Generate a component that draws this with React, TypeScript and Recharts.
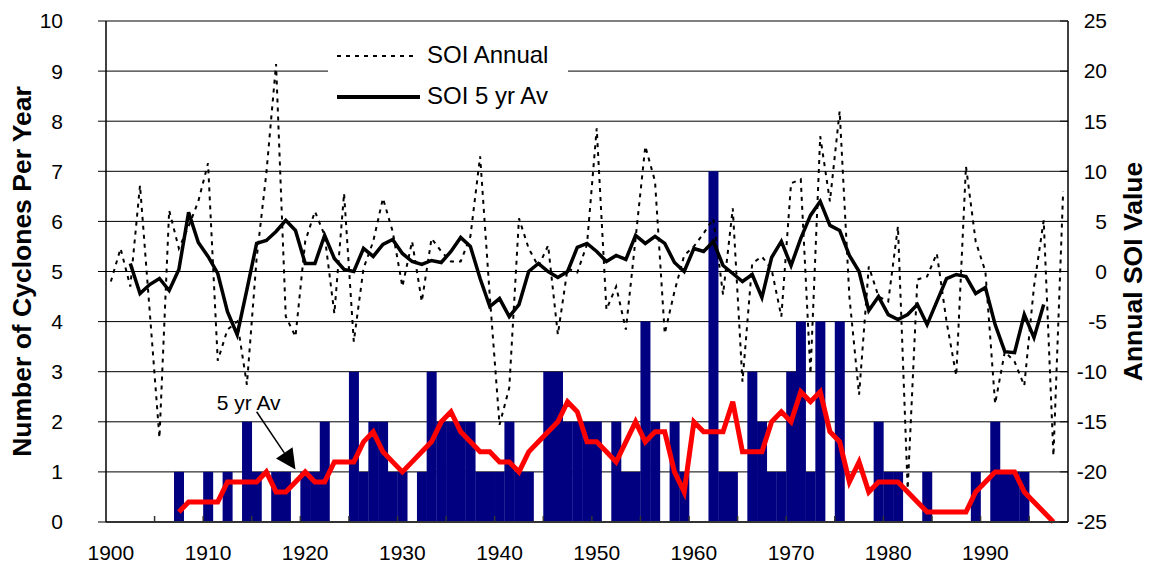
import React from 'react';
import { ComposedChart, Bar, Line, XAxis, YAxis, CartesianGrid, Legend, ReferenceLine } from 'recharts';

const years = [
  1900, 1901, 1902, 1903, 1904, 1905, 1906, 1907, 1908, 1909,
  1910, 1911, 1912, 1913, 1914, 1915, 1916, 1917, 1918, 1919,
  1920, 1921, 1922, 1923, 1924, 1925, 1926, 1927, 1928, 1929,
  1930, 1931, 1932, 1933, 1934, 1935, 1936, 1937, 1938, 1939,
  1940, 1941, 1942, 1943, 1944, 1945, 1946, 1947, 1948, 1949,
  1950, 1951, 1952, 1953, 1954, 1955, 1956, 1957, 1958, 1959,
  1960, 1961, 1962, 1963, 1964, 1965, 1966, 1967, 1968, 1969,
  1970, 1971, 1972, 1973, 1974, 1975, 1976, 1977, 1978, 1979,
  1980, 1981, 1982, 1983, 1984, 1985, 1986, 1987, 1988, 1989,
  1990, 1991, 1992, 1993, 1994, 1995, 1996, 1997, 1998,
];

// cyclones per year (bars)
const cyclones = [
  0, 0, 0, 0, 0, 0, 0, 1, 0, 0,
  1, 0, 1, 0, 2, 1, 0, 1, 1, 0,
  1, 1, 2, 0, 0, 3, 1, 2, 2, 1,
  1, 0, 1, 3, 2, 2, 2, 2, 1, 1,
  1, 2, 1, 1, 0, 3, 3, 2, 2, 2,
  2, 0, 2, 1, 1, 4, 2, 0, 2, 1,
  0, 0, 7, 1, 1, 0, 3, 2, 1, 1,
  3, 4, 1, 4, 0, 4, 0, 0, 0, 2,
  1, 1, 0, 0, 1, 0, 0, 0, 0, 1,
  0, 2, 1, 1, 1, 0, 0, 0, 0,
];

// red line, 5 yr average of cyclones
const cyclones5yr = [
  null, null, null, null, null, null, null, 0.2, 0.4, 0.4,
  0.4, 0.4, 0.8, 0.8, 0.8, 0.8, 1.0, 0.6, 0.6, 0.8,
  1.0, 0.8, 0.8, 1.2, 1.2, 1.2, 1.6, 1.8, 1.4, 1.2,
  1.0, 1.2, 1.4, 1.6, 2.0, 2.2, 1.8, 1.6, 1.4, 1.4,
  1.2, 1.2, 1.0, 1.4, 1.6, 1.8, 2.0, 2.4, 2.2, 1.6,
  1.6, 1.4, 1.2, 1.6, 2.0, 1.6, 1.8, 1.8, 1.0, 0.6,
  2.0, 1.8, 1.8, 1.8, 2.4, 1.4, 1.4, 1.4, 2.0, 2.2,
  2.0, 2.6, 2.4, 2.6, 1.8, 1.6, 0.8, 1.2, 0.6, 0.8,
  0.8, 0.8, 0.6, 0.4, 0.2, 0.2, 0.2, 0.2, 0.2, 0.6,
  0.8, 1.0, 1.0, 1.0, 0.6, 0.4, 0.2, 0.0, null,
];

const soiAnnual = [
  -1.0, 2.3, -1.5, 8.6, -4.0, -16.6, 6.1, 2.3, 4.5, 7.0,
  10.8, -8.9, -5.8, -5.0, -11.3, 1.3, 9.8, 20.7, -4.5, -6.5,
  3.0, 6.0, 3.6, -4.2, 7.8, -7.0, 0.3, 3.0, 7.3, 4.0,
  -1.5, 3.0, -3.0, 3.3, 2.0, 1.0, 1.0, 3.5, 11.5, -2.5,
  -15.3, -11.6, 5.3, 2.3, 0.5, 2.6, -6.3, 0.3, -0.1, 2.7,
  14.3, -3.8, -1.5, -5.8, 3.3, 12.5, 9.0, -6.2, -2.0, 1.6,
  2.5, 3.8, 5.3, -2.3, 6.3, -11.0, 0.8, 1.5, 0.2, -4.5,
  8.8, 9.2, -10.2, 13.5, 7.0, 16.0, -2.5, -12.3, 0.5, -2.5,
  -3.0, 4.5, -21.7, -0.8, -0.5, 1.8, -5.0, -10.4, 10.5, 3.0,
  0.0, -13.2, -8.0, -9.0, -11.4, -1.5, 5.1, -18.4, 8.0,
];

const soi5yr = [
  null, null, 0.8, -2.2, -1.3, -0.7, -1.9, 0.2, 5.9, 2.9,
  1.5, -0.2, -4.0, -6.3, -1.8, 2.8, 3.1, 4.0, 5.1, 4.1,
  0.8, 0.8, 3.6, 1.3, 0.2, 0.0, 2.3, 1.5, 2.7, 3.2,
  1.8, 1.0, 0.7, 1.1, 0.9, 2.0, 3.4, 2.5, -0.7, -3.5,
  -2.7, -4.5, -3.3, 0.0, 0.8, 0.0, -0.6, 0.0, 2.4, 2.8,
  2.0, 1.0, 1.6, 1.2, 3.6, 2.8, 3.5, 2.8, 0.9, 0.0,
  2.3, 2.0, 3.0, 0.6, -0.2, -1.0, -0.3, -2.6, 1.4, 3.0,
  0.6, 3.3, 5.6, 7.0, 4.6, 4.1, 1.6, 0.0, -3.9, -2.5,
  -4.3, -4.8, -4.3, -3.3, -5.3, -3.0, -0.7, -0.3, -0.5, -2.2,
  -1.6, -5.3, -8.0, -8.1, -4.3, -6.6, -3.3, null, null,
];

const leftTicks = [0, 1, 2, 3, 4, 5, 6, 7, 8, 9, 10];
const rightTicks = [-25, -20, -15, -10, -5, 0, 5, 10, 15, 20, 25];
const legendOrder = ['SOI Annual', 'SOI 5 yr Av'];

const data = years.map((year, i) => ({
  year,
  cyclones: cyclones[i],
  cyclones5yr: cyclones5yr[i],
  soi: soiAnnual[i],
  soi5: soi5yr[i],
}));

const W = 1152;
const H = 564;
const LEFT_W = 106;
const RIGHT_W = 84;
const X_H = 42;
const BAND = (W - LEFT_W - RIGHT_W) / years.length;
const FONT = '"Liberation Sans", Arial, Helvetica, sans-serif';

const YearTick = (props: any) => {
  const { x, y, payload } = props;
  const yr = Number(payload.value);
  return (
    <g>
      {yr % 5 === 0 && yr > 1900 && (
        <line x1={x - BAND / 2} x2={x - BAND / 2} y1={y} y2={y - 6} stroke="#333" strokeWidth={1.5} />
      )}
      {yr % 10 === 0 && (
        <text x={x} y={y + 31} dy="0.35em" textAnchor="middle" fontSize={21} fill="#000" fontFamily={FONT}>
          {yr}
        </text>
      )}
    </g>
  );
};

const SoiTick = (props: any) => {
  const { x, y, payload } = props;
  return (
    <g>
      <line x1={x} x2={x - 8} y1={y} y2={y} stroke="#000" strokeWidth={1} />
      <text x={x + 39} y={y} dy="0.35em" textAnchor="end" fontSize={21} fill="#000" fontFamily={FONT}>
        {payload.value}
      </text>
    </g>
  );
};

const axisTitle = (text: string, dx: number, fallbackX: number) => (p: any) => {
  const vb = p && p.viewBox;
  const cx = vb && vb.x !== undefined ? vb.x + dx : fallbackX;
  const cy = vb && vb.y !== undefined ? vb.y + vb.height / 2 : 271;
  return (
    <text
      x={cx}
      y={cy}
      dy="0.35em"
      transform={`rotate(-90 ${cx} ${cy})`}
      textAnchor="middle"
      fontSize={26.5}
      fontWeight="bold"
      fill="#000"
      fontFamily={FONT}
    >
      {text}
    </text>
  );
};

const ArrowNote = (p: any) => {
  const { x1, y1, x2, y2 } = p;
  const ang = Math.atan2(y2 - y1, x2 - x1);
  const len = 20;
  const half = 10;
  const bx = x2 - len * Math.cos(ang);
  const by = y2 - len * Math.sin(ang);
  const px = -Math.sin(ang) * half;
  const py = Math.cos(ang) * half;
  return (
    <g>
      <line x1={x1} y1={y1} x2={bx} y2={by} stroke="#000" strokeWidth={1.5} />
      <polygon points={`${x2},${y2} ${bx + px},${by + py} ${bx - px},${by - py}`} fill="#000" />
      <text x={x1 - 8} y={y1 - 9} dy="0.35em" textAnchor="middle" fontSize={21} fill="#000" fontFamily={FONT}>
        5 yr Av
      </text>
    </g>
  );
};

const renderLegend = (props: any) => {
  const items = (props.payload || [])
    .filter((it: any) => legendOrder.includes(it.value))
    .sort((a: any, b: any) => legendOrder.indexOf(a.value) - legendOrder.indexOf(b.value));
  return (
    <svg width={240} height={78}>
      {items.map((it: any, i: number) => {
        const cy = 20 + i * 41;
        const dashed = it.value === 'SOI Annual';
        return (
          <g key={it.value}>
            <line
              x1={9}
              x2={dashed ? 86 : 92}
              y1={cy}
              y2={cy}
              stroke="#000"
              strokeWidth={dashed ? 2 : 4}
              strokeDasharray={dashed ? '4 5' : undefined}
            />
            <text x={99} y={cy - 1} dy="0.35em" fontSize={24} fill="#000" fontFamily={FONT}>
              {it.value}
            </text>
          </g>
        );
      })}
    </svg>
  );
};

export default function App() {
  return (
    <div style={{ position: 'absolute', left: 0, top: 0, width: W, height: H, background: '#fff' }}>
      <ComposedChart
        width={W}
        height={H}
        data={data}
        margin={{ top: 21, right: 0, bottom: 0, left: 0 }}
        barCategoryGap={0}
        barGap={0}
        style={{ fontFamily: FONT }}
      >
        <CartesianGrid yAxisId="left" vertical={false} stroke="#000" strokeWidth={1} />
        <XAxis
          dataKey="year"
          height={X_H}
          interval={0}
          tickSize={0}
          tickMargin={0}
          tick={<YearTick />}
          tickLine={false}
          axisLine={{ stroke: '#333', strokeWidth: 2 }}
        />
        <YAxis
          yAxisId="left"
          width={LEFT_W}
          domain={[0, 10]}
          ticks={leftTicks}
          interval={0}
          tickSize={8}
          tickMargin={35}
          tick={{ fontSize: 21, fill: '#000', fontFamily: FONT }}
          tickLine={{ stroke: '#000' }}
          axisLine={{ stroke: '#000', strokeWidth: 1.5 }}
          label={{ content: axisTitle('Number of Cyclones Per Year', 22, 22) }}
        />
        <YAxis
          yAxisId="right"
          orientation="right"
          width={RIGHT_W}
          domain={[-25, 25]}
          ticks={rightTicks}
          interval={0}
          tickSize={0}
          tickMargin={0}
          tick={<SoiTick />}
          tickLine={false}
          axisLine={{ stroke: '#000', strokeWidth: 1.5 }}
          label={{ content: axisTitle('Annual SOI Value', 65, 1133) }}
        />
        <Legend
          content={renderLegend}
          layout="vertical"
          align="center"
          verticalAlign="middle"
          wrapperStyle={{ left: 328, top: 36, width: 240, height: 78, backgroundColor: '#fff' }}
        />
        <Bar
          yAxisId="left"
          dataKey="cyclones"
          name="Cyclones"
          fill="#000080"
          legendType="none"
          isAnimationActive={false}
        />
        <Line
          yAxisId="left"
          type="linear"
          dataKey="cyclones5yr"
          name="5 yr Av"
          stroke="#ff0000"
          strokeWidth={5}
          dot={false}
          legendType="none"
          isAnimationActive={false}
        />
        <Line
          yAxisId="right"
          type="linear"
          dataKey="soi"
          name="SOI Annual"
          stroke="#000"
          strokeWidth={2}
          strokeDasharray="4 5"
          dot={false}
          isAnimationActive={false}
        />
        <Line
          yAxisId="right"
          type="linear"
          dataKey="soi5"
          name="SOI 5 yr Av"
          stroke="#000"
          strokeWidth={3.5}
          dot={false}
          isAnimationActive={false}
        />
        <ReferenceLine
          yAxisId="left"
          segment={[{ x: 1915, y: 2.2 }, { x: 1919, y: 1.05 }]}
          shape={ArrowNote}
        />
      </ComposedChart>
    </div>
  );
}
